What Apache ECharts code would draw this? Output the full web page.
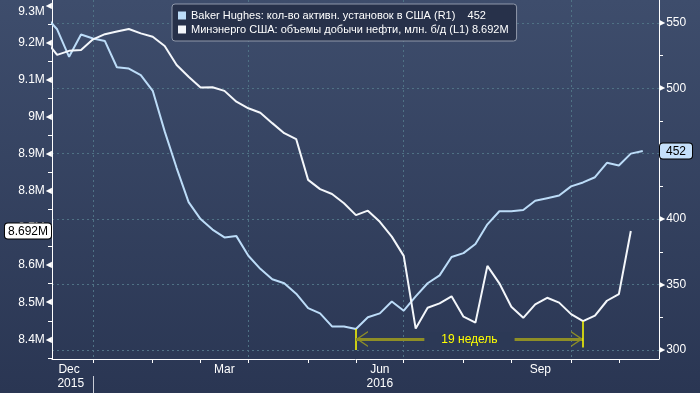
<!DOCTYPE html>
<html>
<head>
<meta charset="utf-8">
<script src="https://cdn.jsdelivr.net/npm/echarts@6/dist/echarts.min.js"></script>
<style>
html,body{margin:0;padding:0;background:#2c3956;}
#c{width:700px;height:393px;}
</style>
</head>
<body>
<div id="c"></div>
<script>
// Weekly dates (Fridays)
const weekDates = ['2015-11-27','2015-12-04','2015-12-11','2015-12-18','2015-12-25','2016-01-01','2016-01-08','2016-01-15','2016-01-22','2016-01-29','2016-02-05','2016-02-12','2016-02-19','2016-02-26','2016-03-04','2016-03-11','2016-03-18','2016-03-25','2016-04-01','2016-04-08','2016-04-15','2016-04-22','2016-04-29','2016-05-06','2016-05-13','2016-05-20','2016-05-27','2016-06-03','2016-06-10','2016-06-17','2016-06-24','2016-07-01','2016-07-08','2016-07-15','2016-07-22','2016-07-29','2016-08-05','2016-08-12','2016-08-19','2016-08-26','2016-09-02','2016-09-09','2016-09-16','2016-09-23','2016-09-30','2016-10-07','2016-10-14','2016-10-21','2016-10-28','2016-11-04','2016-11-11'];

// Baker Hughes: active oil rigs in the US (right axis)
const rigCount = [555,545,524,541,538,536,516,515,510,498,467,439,413,400,392,386,387,372,362,354,351,343,332,328,318,318,316,325,328,337,330,341,351,357,371,374,381,396,406,406,407,414,416,418,425,428,432,443,441,450,452];

// EIA: US crude production, million b/d (left axis)
const oilOutput = [9.208,9.167,9.178,9.180,9.209,9.223,9.230,9.237,9.225,9.216,9.191,9.140,9.108,9.079,9.080,9.070,9.041,9.023,9.011,8.983,8.956,8.940,8.830,8.805,8.792,8.767,8.735,8.747,8.717,8.677,8.625,8.429,8.485,8.497,8.516,8.461,8.445,8.598,8.551,8.488,8.458,8.494,8.512,8.499,8.468,8.449,8.464,8.504,8.522,8.692];

const seriesNames = ['Baker Hughes: кол-во активн. установок в США (R1)', 'Минэнерго США: объемы добычи нефти, млн. б/д (L1)'];

// x-axis ticks (week containing month end), quarterly grid lines
const monthTickDates = ['2015-12-25','2016-01-29','2016-02-26','2016-03-25','2016-04-29','2016-05-27','2016-06-24','2016-07-29','2016-08-26','2016-09-30','2016-10-28'];
const gridLineDates = ['2015-12-25','2016-03-25','2016-06-24','2016-09-30'];
const monthLabelDates = ['2015-12-11','2016-03-11','2016-06-10','2016-09-12'];
const monthLabels = ['Dec','Mar','Jun','Sep'];
const yearLabelDates = ['2015-12-12','2016-06-10'];
const yearLabels = ['2015','2016'];
const yearSeparatorDates = ['2015-12-25'];

// annotation: from rig-count low to output low
const annotStartIdx = 26;
const annotEndIdx = 45;
const annotText = '19 недель';

const ts = d => Date.parse(d + 'T00:00:00Z');
const xMin = Date.UTC(2015, 11, 1);
const xMax = Date.UTC(2016, 10, 20, 12);
const leftMax = 9.3151;

const FONT = 'Liberation Sans, DejaVu Sans, sans-serif';
const chevron = 'path://M8,0 L16,12 L14.4,12 L8,2.4 L1.6,12 L0,12 Z';

const blueData = weekDates.map((d, i) => [ts(d), rigCount[i]]);
const whiteData = oilOutput.map((v, i) => [ts(weekDates[i]), v]);

const lastRig = rigCount[rigCount.length - 1];
const lastOut = oilOutput[oilOutput.length - 1];

function isStep(v, step) {
  const r = v / step;
  return Math.abs(r - Math.round(r)) < 1e-6;
}
function lookupLabel(val, dates, labels) {
  for (let i = 0; i < dates.length; i++) if (Math.abs(ts(dates[i]) - val) < 3600000) return labels[i];
  return '';
}
function leftLabel(v) {
  if (!isStep(v, 0.1)) return '';
  const txt = (+v.toFixed(1)) + 'M';
  const top = (leftMax - v) < 0.03;
  return '{' + (top ? 'vt' : 'v') + '|' + txt + '}{t|◀}';
}

const chart = echarts.init(document.getElementById('c'), null, {renderer: 'canvas'});
chart.setOption({
  animation: false,
  backgroundColor: {type: 'linear', x: 0, y: 0, x2: 0, y2: 1, colorStops: [
    {offset: 0, color: '#3e4d6c'}, {offset: 1, color: '#2a3653'}]},
  textStyle: {fontFamily: FONT},
  grid: {left: 52, right: 41, top: 0, bottom: 34, containLabel: false},
  legend: {
    left: 172, top: 4, orient: 'vertical',
    backgroundColor: '#27314a', borderColor: '#8f98aa', borderWidth: 1, borderRadius: 3,
    padding: [5, 8, 5, 6], itemGap: 1, itemWidth: 8, itemHeight: 8, icon: 'rect',
    textStyle: {color: '#ffffff', fontSize: 11, fontFamily: FONT, lineHeight: 13},
    formatter: name => name === seriesNames[0] ? name + '    ' + lastRig : name + ' ' + lastOut.toFixed(3) + 'M',
    data: seriesNames
  },
  xAxis: [
    {
      type: 'value', min: xMin, max: xMax, position: 'bottom',
      axisLine: {show: true, lineStyle: {color: '#ffffff', width: 1}},
      axisTick: {show: true, length: 4, customValues: monthTickDates.map(ts), lineStyle: {color: '#ffffff'}},
      axisLabel: {show: true, customValues: monthLabelDates.map(ts), color: '#ffffff', fontSize: 12, margin: 5,
        formatter: v => lookupLabel(v, monthLabelDates, monthLabels)},
      splitLine: {show: false}
    },
    {
      type: 'value', min: xMin, max: xMax, position: 'bottom',
      axisLine: {show: false},
      axisTick: {show: false, customValues: gridLineDates.map(ts)},
      axisLabel: {show: false},
      splitLine: {show: true, lineStyle: {color: '#4f7285', type: [2, 3], width: 1}}
    },
    {
      type: 'value', min: xMin, max: xMax, position: 'bottom', offset: 17,
      axisLine: {show: false},
      axisTick: {show: true, length: 17, customValues: yearSeparatorDates.map(ts), lineStyle: {color: '#c8ccd6'}},
      axisLabel: {show: true, customValues: yearLabelDates.map(ts), color: '#ffffff', fontSize: 12, margin: 2,
        formatter: v => lookupLabel(v, yearLabelDates, yearLabels)},
      splitLine: {show: false}
    }
  ],
  yAxis: [
    {
      type: 'value', position: 'left', min: 8.3469, max: leftMax, splitNumber: 10,
      axisLine: {show: true, lineStyle: {color: '#ffffff', width: 1}},
      axisTick: {show: false},
      minorTick: {show: true, splitNumber: 2, length: 4, lineStyle: {color: '#ffffff'}},
      splitLine: {show: false},
      axisLabel: {
        margin: 0, color: '#ffffff',
        formatter: leftLabel,
        rich: {
          v: {color: '#ffffff', fontSize: 12, fontFamily: FONT, padding: [0, 1, 0, 0], verticalAlign: 'middle'},
          vt: {color: '#ffffff', fontSize: 12, fontFamily: FONT, padding: [12, 1, 0, 0], verticalAlign: 'middle'},
          t: {color: '#ffffff', fontSize: 8, verticalAlign: 'middle'}
        }
      },
      axisPointer: {
        show: true, type: 'line', value: lastOut, status: 'show', snap: false, triggerTooltip: false,
        lineStyle: {opacity: 0, width: 0},
        label: {show: true, formatter: p => (+p.value).toFixed(3) + 'M', backgroundColor: '#ffffff', color: '#000000',
          borderColor: '#000000', borderWidth: 1, padding: [2, 3, 1, 3], fontSize: 12, fontFamily: FONT, margin: 1}
      }
    },
    {
      type: 'value', position: 'right', min: 293.12, max: 567.38, splitNumber: 5,
      axisLine: {show: true, lineStyle: {color: '#ffffff', width: 1}},
      axisTick: {show: false},
      minorTick: {show: true, splitNumber: 2, length: 4, lineStyle: {color: '#ffffff'}},
      splitLine: {show: true, showMinLine: false, showMaxLine: false, lineStyle: {color: '#4f7285', type: [2, 3], width: 1}},
      axisLabel: {
        margin: 0, color: '#ffffff',
        formatter: v => isStep(v, 50) ? '{t|▶}{v|' + Math.round(v) + '}' : '',
        rich: {v: {color: '#ffffff', fontSize: 12, fontFamily: FONT, padding: [0, 0, 0, 1]}, t: {color: '#ffffff', fontSize: 8}}
      },
      axisPointer: {
        show: true, type: 'line', value: lastRig, status: 'show', snap: false, triggerTooltip: false,
        lineStyle: {opacity: 0, width: 0},
        label: {show: true, formatter: p => String(Math.round(p.value)), backgroundColor: '#c5e0fb', color: '#000000',
          borderColor: '#000000', borderWidth: 1, padding: [2, 6, 1, 6], fontSize: 12, fontFamily: FONT, margin: 1}
      }
    }
  ],
  series: [
    {
      name: seriesNames[0], type: 'line', xAxisIndex: 0, yAxisIndex: 1, data: blueData,
      showSymbol: false, symbol: 'none', color: '#bcdcf8',
      lineStyle: {color: '#bcdcf8', width: 2},
      markLine: {
        silent: true, animation: false, symbol: ['none', 'none'],
        label: {show: false},
        data: [
          [
            {coord: [ts(weekDates[annotStartIdx]), rigCount[annotStartIdx]], lineStyle: {color: '#ffff00', width: 1.5, type: 'solid'}, label: {show: false}},
            {coord: [ts(weekDates[annotStartIdx]), 300]}
          ],
          [
            {coord: [ts(weekDates[annotStartIdx]), 308.4], symbol: chevron, symbolSize: [16, 12], symbolOffset: [0, 6],
              lineStyle: {color: '#8e8e26', width: 3, type: 'solid'},
              label: {show: true, position: 'middle', distance: -9, formatter: annotText, color: '#ffff00', fontSize: 12,
                fontFamily: FONT, backgroundColor: '#2c3956', padding: [2, 17, 2, 17]}},
            {coord: [ts(weekDates[annotEndIdx]), 308.4], symbol: chevron, symbolSize: [16, 12], symbolOffset: [0, 6]}
          ]
        ]
      },
      z: 2
    },
    {
      name: seriesNames[1], type: 'line', xAxisIndex: 0, yAxisIndex: 0, data: whiteData,
      showSymbol: false, symbol: 'none', color: '#f4f7fb',
      lineStyle: {color: '#f4f7fb', width: 2},
      markLine: {
        silent: true, animation: false, symbol: ['none', 'none'],
        label: {show: false},
        data: [
          [
            {coord: [ts(weekDates[annotEndIdx]), oilOutput[annotEndIdx]], lineStyle: {color: '#ffff00', width: 1.5, type: 'solid'}, label: {show: false}},
            {coord: [ts(weekDates[annotEndIdx]), 8.378]}
          ]
        ]
      },
      z: 3
    }
  ]
});
</script>
</body>
</html>
